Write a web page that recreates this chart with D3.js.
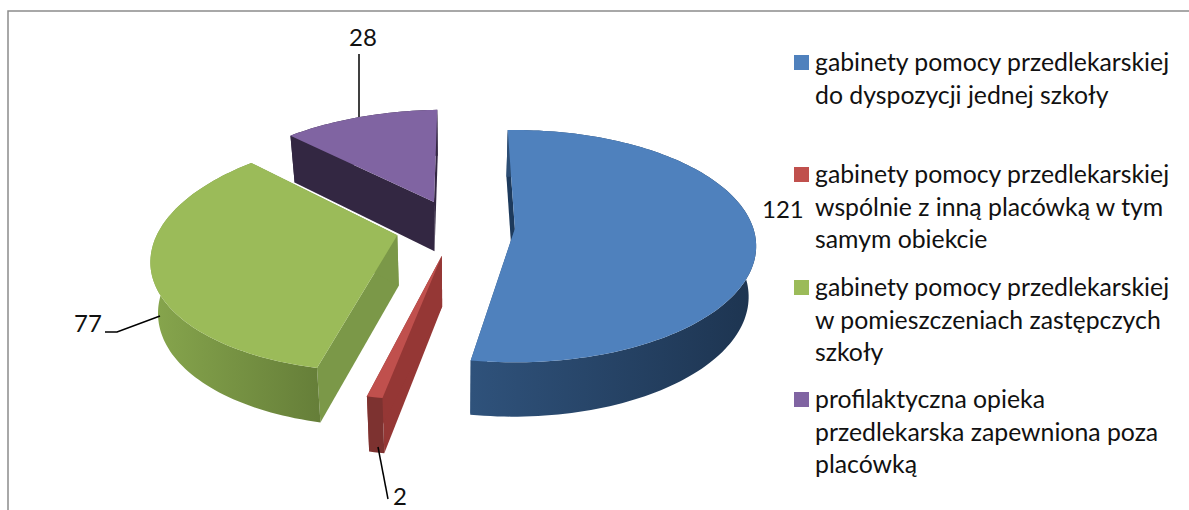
<!DOCTYPE html>
<html>
<head>
<meta charset="utf-8">
<script src="https://cdnjs.cloudflare.com/ajax/libs/d3/7.8.5/d3.min.js"></script>
<style>
    html, body { margin: 0; padding: 0; background: #fff; overflow: hidden; }
    svg { display: block; }
    text { font-family: Lato, "Open Sans", sans-serif; fill: #111; }
</style>
</head>
<body>
<svg id="chart" width="1189" height="510"></svg>
<script>
// Data
const categories = [
    ['gabinety pomocy przedlekarskiej', 'do dyspozycji jednej szkoły'],
    ['gabinety pomocy przedlekarskiej', 'wspólnie z inną placówką w tym', 'samym obiekcie'],
    ['gabinety pomocy przedlekarskiej', 'w pomieszczeniach zastępczych', 'szkoły'],
    ['profilaktyczna opieka', 'przedlekarska zapewniona poza', 'placówką']
];
const values = [121, 2, 77, 28];

const topColors = ['#4f81bd', '#c0504d', '#9bbb59', '#8064a2'];
const startWallColors = ['#1d3a5c', '#953735', '#7b9848', '#332742'];
const rimColors = [['#2f527b', '#1d3450'], ['#7d3230', '#7d3230'], ['#87a64d', '#667f39'], ['#332742', '#332742']];
const endWallColors = ['#2f527b', '#953735', '#7b9848', '#332742'];

// Projection of the tilted pie, tuned by eye against the picture
const cx = 455.5, cy = 227;
const rx = 238, ry = 113;
const perspective = 0.15;
const skew = 9;
const explode = 0.25;
const depth = 50;
const bottomShrink = 0.975; // the underside of the pie looks slightly narrower
const rotation = -2 * Math.PI / 180;

const svg = d3.select('#chart');

// Chart frame, only the top and left edges are in the crop
svg.append('path')
    .attr('d', 'M8,510V11H1189')
    .attr('fill', 'none')
    .attr('stroke', '#8c8c8c')
    .attr('stroke-width', 1.5);

function project(wx, wy, down) {
    const w = 1 + perspective * wy;
    const x = (rx * wx + skew * wy) / w;
    const y = cy - ry * wy / w;
    if (!down) return [cx + x, y];
    return [cx + x * bottomShrink, y + depth / Math.sqrt(w)];
}

const pie = d3.pie()
    .sort(null)
    .startAngle(rotation)
    .endAngle(rotation + 2 * Math.PI);

const slices = pie(values).map((d, i) => {
    const mid = (d.startAngle + d.endAngle) / 2;
    const ox = explode * Math.sin(mid);
    const oy = explode * Math.cos(mid);
    const steps = Math.max(2, Math.ceil((d.endAngle - d.startAngle) * 40));
    const angles = d3.range(steps + 1).map(k => d.startAngle + (d.endAngle - d.startAngle) * k / steps);
    return {
        index: i,
        apex: down => project(ox, oy, down),
        rim: down => angles.map(a => project(ox + Math.sin(a), oy + Math.cos(a), down))
    };
});

const line = d3.line();
const defs = svg.append('defs');

// Far slices first so that nearer ones sit on top
[3, 2, 0, 1].forEach(i => {
    const s = slices[i];
    const g = svg.append('g');
    const top = s.rim(false);
    const bottom = s.rim(true);

    const gradient = defs.append('linearGradient')
        .attr('id', 'rim-' + i)
        .attr('gradientUnits', 'userSpaceOnUse')
        .attr('x1', d3.min(top, p => p[0]))
        .attr('x2', d3.max(top, p => p[0]))
        .attr('y1', 0)
        .attr('y2', 0);
    // blue gets darker towards the right, green towards the slice edge
    gradient.append('stop').attr('offset', 0).attr('stop-color', rimColors[i][0]);
    gradient.append('stop').attr('offset', 1).attr('stop-color', rimColors[i][1]);

    // side cut at the start angle
    g.append('path')
        .attr('d', line([s.apex(false), top[0], bottom[0], s.apex(true)]) + 'Z')
        .attr('fill', startWallColors[i]);

    // side cut at the end angle
    g.append('path')
        .attr('d', line([s.apex(false), top[top.length - 1], bottom[bottom.length - 1], s.apex(true)]) + 'Z')
        .attr('fill', endWallColors[i]);

    // outer wall
    g.append('path')
        .attr('d', line(top.concat(bottom.slice().reverse())) + 'Z')
        .attr('fill', `url(#rim-${i})`);

    // top face
    g.append('path')
        .attr('d', line([s.apex(false)].concat(top)) + 'Z')
        .attr('fill', topColors[i]);
});

// Value labels with their leader lines
const labelPositions = [
    { x: 762, y: 218, anchor: 'start', leader: null },
    { x: 393, y: 505, anchor: 'start', leader: [[378, 447], [388, 499]] },
    { x: 74, y: 332, anchor: 'start', leader: [[160, 316], [117, 332], [105, 332]] },
    { x: 363, y: 46, anchor: 'middle', leader: [[359, 54], [359, 117]] }
];

values.forEach((v, i) => {
    const pos = labelPositions[i];
    svg.append('text')
        .attr('x', pos.x)
        .attr('y', pos.y)
        .attr('text-anchor', pos.anchor)
        .attr('font-size', 24)
        .text(v);
    if (pos.leader) {
        svg.append('path')
            .attr('d', line(pos.leader))
            .attr('fill', 'none')
            .attr('stroke', '#000')
            .attr('stroke-width', 1.5);
    }
});

// Legend
const legendBaselines = [71, 183, 296, 408];
const legendLineHeight = 32.6;

categories.forEach((lines, i) => {
    svg.append('rect')
        .attr('x', 794)
        .attr('y', legendBaselines[i] - 16)
        .attr('width', 15)
        .attr('height', 15)
        .attr('fill', topColors[i]);

    svg.selectAll(null)
        .data(lines)
        .enter()
        .append('text')
        .attr('x', 815)
        .attr('y', (d, k) => legendBaselines[i] + k * legendLineHeight)
        .attr('font-size', 24.8)
        .text(d => d);
});
</script>
</body>
</html>
